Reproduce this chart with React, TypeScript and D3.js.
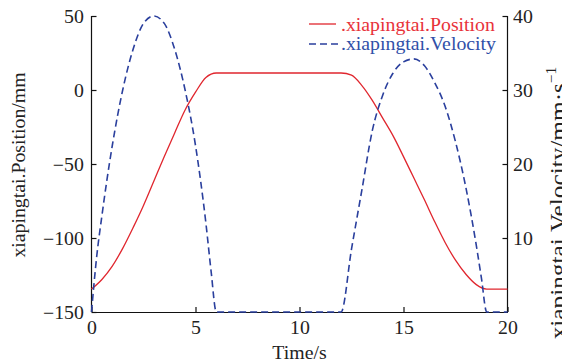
import React, { useRef, useEffect } from "react";
import { select, scaleLinear, axisLeft, axisRight, axisBottom, line, curveMonotoneX } from "d3";

// time in s, position in mm (left axis)
const posTime = [0, 0.5, 1, 1.5, 2, 2.5, 3, 3.5, 4, 4.5, 5, 5.5, 6, 12, 12.5, 13, 13.5, 14, 14.5, 15, 15.5, 16, 16.5, 17, 17.5, 18, 18.5, 19, 20];
const posValue = [-134.5, -128, -119, -107, -93, -78, -61.5, -45, -29, -13.5, -1.5, 8.5, 11.5, 11.5, 10, 3, -7, -19, -31, -45, -59.5, -74, -89, -103, -115, -124.5, -131.5, -134.5, -134.5];

// velocity in mm/s (right axis)
const velTime = [0, 0.25, 0.5, 1, 1.5, 2, 2.5, 3, 3.5, 4, 4.5, 5, 5.5, 5.75, 6, 12, 12.5, 13, 13.5, 14, 14.5, 15, 15.5, 16, 16.5, 17, 17.5, 18, 18.5, 18.75, 19, 20];
const velValue = [0, 7.5, 13, 22.5, 30, 35.5, 39, 40, 39, 35.5, 30, 22.5, 12, 5.5, 0, 0, 8.5, 16.5, 24.5, 29.3, 32.3, 33.8, 34.2, 33.3, 31, 27.8, 23, 16.8, 9, 4.5, 0, 0];

const xTicks = [0, 5, 10, 15, 20];
const leftTicks = [-150, -100, -50, 0, 50];
const rightTicks = [10, 20, 30, 40];

const seriesNames = [".xiapingtai.Position", ".xiapingtai.Velocity"];

const FONT = "'Liberation Serif', 'Times New Roman', serif";
const STRETCH = "scale(1.1,1)";

const App = () => {
    const svgRef = useRef();
    const width = 562;
    const height = 363;
    const plot = { left: 91.5, right: 507.5, top: 16, bottom: 312 };

    useEffect(() => {
        const svg = select(svgRef.current);
        const xScale = scaleLinear().domain([0, 20]).range([plot.left, plot.right]);
        const yLeft = scaleLinear().domain([-150, 50]).range([plot.bottom, plot.top]);
        const yRight = scaleLinear().domain([0, 40]).range([plot.bottom, plot.top]);

        const styleAxis = (g) => {
            g.select(".domain").attr("stroke", "#111").attr("stroke-width", 1.2);
            g.selectAll(".tick line").attr("stroke", "#111").attr("stroke-width", 1.2);
            g.selectAll(".tick text")
                .attr("font-family", FONT)
                .attr("font-size", 18)
                .attr("fill", "#222");
        };

        svg.select(".x-axis")
            .attr("transform", "translate(0," + plot.bottom + ")")
            .call(axisBottom(xScale).tickValues(xTicks).tickSize(-5).tickSizeOuter(0).tickPadding(9).tickFormat((d) => String(d)))
            .call(styleAxis)
            .call((g) => g.selectAll(".tick text").attr("transform", STRETCH));

        svg.select(".y-axis")
            .attr("transform", "translate(" + plot.left + ",0)")
            .call(axisLeft(yLeft).tickValues(leftTicks).tickSize(-5).tickSizeOuter(0).tickPadding(7))
            .call(styleAxis)
            .call((g) => g.selectAll(".tick text").attr("transform", STRETCH).attr("dy", "0.36em"));

        svg.select(".y2-axis")
            .attr("transform", "translate(" + plot.right + ",0)")
            .call(axisRight(yRight).tickValues(rightTicks).tickSize(-5).tickSizeOuter(0).tickPadding(5))
            .call(styleAxis)
            .call((g) => g.selectAll(".tick text").attr("transform", STRETCH).attr("dy", "0.36em"));

        // both vertical axis lines run the full plot height
        svg.select(".y2-axis .domain").attr("d", "M0," + plot.top + "V" + plot.bottom);
        svg.select(".y-axis .domain").attr("d", "M0," + plot.top + "V" + plot.bottom);

        const posLine = line()
            .x((d) => xScale(d[0]))
            .y((d) => yLeft(d[1]))
            .curve(curveMonotoneX);
        const velLine = line()
            .x((d) => xScale(d[0]))
            .y((d) => yRight(d[1]))
            .curve(curveMonotoneX);

        svg.selectAll(".pos-line")
            .data([posTime.map((t, i) => [t, posValue[i]])])
            .join("path")
            .attr("class", "pos-line")
            .attr("d", posLine)
            .attr("fill", "none")
            .attr("stroke", "#e0262e")
            .attr("stroke-width", 1.3);

        svg.selectAll(".vel-line")
            .data([velTime.map((t, i) => [t, velValue[i]])])
            .join("path")
            .attr("class", "vel-line")
            .attr("d", velLine)
            .attr("fill", "none")
            .attr("stroke", "#2a3f9d")
            .attr("stroke-width", 1.6)
            .attr("stroke-dasharray", "7,4");
    }, []);

    return (
        <svg ref={svgRef} width={width} height={height}
            style={{ position: "absolute", left: 0, top: 0, background: "#fff" }}>
            <g className="x-axis" />
            <g className="y-axis" />
            <g className="y2-axis" />

            {/* axis titles */}
            <text transform={"translate(25,165) rotate(-90) " + STRETCH} textAnchor="middle"
                fontFamily={FONT} fontSize={18} fill="#222">xiapingtai.Position/mm</text>
            <text transform={"translate(566,203) rotate(-90) " + STRETCH} textAnchor="middle"
                fontFamily={FONT} fontSize={23} fill="#222">
                xiapingtai.Velocity/mm·s<tspan fontSize={14} dy={-10}>−1</tspan>
            </text>
            <text transform={"translate(299.5,359) " + STRETCH} textAnchor="middle"
                fontFamily={FONT} fontSize={18} fill="#222">Time/s</text>

            {/* legend */}
            <line x1={309} x2={336} y1={24} y2={24} stroke="#e0262e" strokeWidth={1.3} />
            <text transform={"translate(341,31) " + STRETCH} fontFamily={FONT} fontSize={18} fill="#e8323a">{seriesNames[0]}</text>
            <line x1={309} x2={338} y1={44} y2={44} stroke="#2a3f9d" strokeWidth={1.6} strokeDasharray="7,4" />
            <text transform={"translate(341,50) " + STRETCH} fontFamily={FONT} fontSize={18} fill="#3050a8">{seriesNames[1]}</text>
        </svg>
    );
};

export default App;
